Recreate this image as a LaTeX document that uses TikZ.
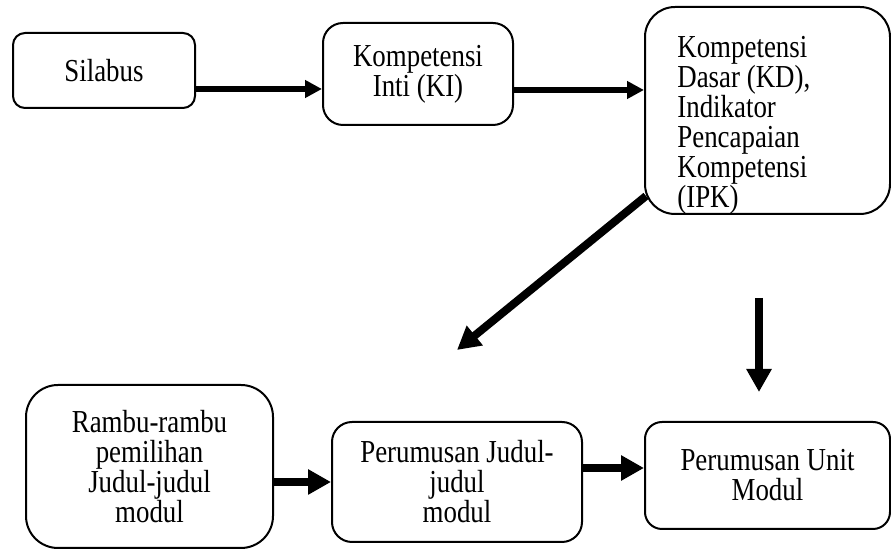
\documentclass[tikz,border=0pt]{standalone}
\usepackage{fontspec}
\setmainfont{Liberation Serif}[FakeStretch=0.84]
\usetikzlibrary{calc}
\usetikzlibrary{arrows.meta}

\begin{document}
\begin{tikzpicture}[x=0.5pt, y=-0.5pt,
	box/.style={rectangle, draw, line width=1pt, inner sep=0pt, align=center, font=\fontsize{16pt}{15pt}\selectfont},
	arr/.style={line width=3pt, -{Triangle[length=8.5pt, width=8.5pt]}},
	bigarr/.style={line width=4pt, -{Triangle[length=11.5pt, width=12pt]}}]

		\useasboundingbox (0,0) rectangle (891,550);

		\node[box, rounded corners=6pt, minimum width=91pt, minimum height=37.5pt] (sil) at (104,70.5) {Silabus};
		\node[box, rounded corners=10pt, minimum width=95pt, minimum height=51pt] (ki) at (418,74) {Kompetensi\\Inti (KI)};
		\node[box, rounded corners=15pt, minimum width=122.5pt, minimum height=103.5pt] (kd) at (767.5,110.5) {};
		\node[inner sep=0pt, align=left, anchor=north west, font=\fontsize{16pt}{15pt}\selectfont] (kdtext) at (677,36) {Kompetensi\\Dasar (KD),\\Indikator\\Pencapaian\\Kompetensi\\(IPK)};

		\node[box, rounded corners=16pt, minimum width=123.5pt, minimum height=81.5pt] (rb) at (149.5,466.5) {Rambu-rambu\\pemilihan\\Judul-judul\\modul};
		\node[box, rounded corners=10pt, minimum width=125pt, minimum height=60pt] (pj) at (457,482) {Perumusan Judul-\\judul\\modul};
		\node[box, rounded corners=8.5pt, minimum width=122.5pt, minimum height=53.5pt] (pu) at (767.5,475.5) {Perumusan Unit\\Modul};

		\coordinate (diagend) at (457,350);
		\coordinate (vtop) at (759,298);
		\coordinate (vend) at (759,392);

		\draw[arr] ($(sil.east)+(0,18.5)$) -- ($(ki.west)+(0,15)$);
		\draw[arr] ($(ki.east)+(0,16)$) -- ($(kd.west)+(0,-20.5)$);
		\draw[bigarr] ($(kd.south west)+(2,-19)$) -- (diagend);
		\draw[bigarr] (vtop) -- (vend);
		\draw[bigarr] (pj.west -| rb.east) -- (pj.west);
		\draw[bigarr] ($(pj.east)+(0,-14)$) -- ($(pu.west)+(0,-7.5)$);
    \end{tikzpicture}
\end{document}
